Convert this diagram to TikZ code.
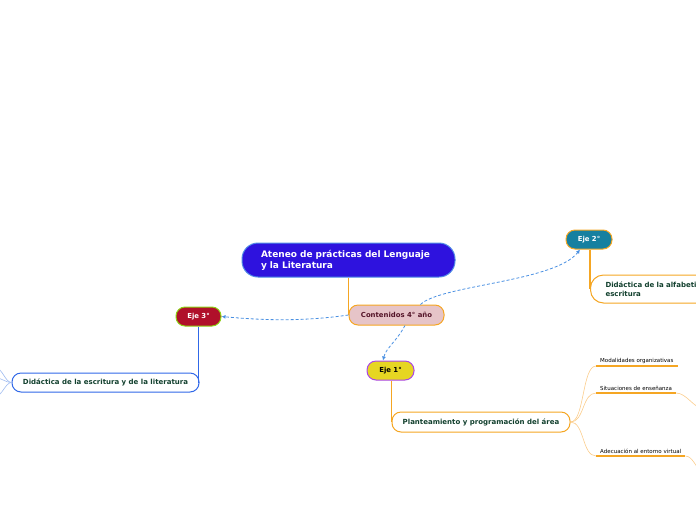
\documentclass[tikz,border=0pt]{standalone}
\usepackage{fontspec}
\setmainfont{DejaVu Sans}
\usetikzlibrary{arrows.meta,calc}
\definecolor{rootblue}{RGB}{46,18,222}
\definecolor{rootedge}{RGB}{80,140,230}
\definecolor{orangeline}{RGB}{245,166,35}
\definecolor{paletwig}{RGB}{251,205,140}
\definecolor{blueline}{RGB}{48,104,232}
\definecolor{bluetwig}{RGB}{160,188,240}
\definecolor{linkblue}{RGB}{74,144,226}
\definecolor{pinkfill}{RGB}{230,196,200}
\definecolor{maroontext}{RGB}{84,20,40}
\definecolor{tealfill}{RGB}{22,128,160}
\definecolor{crimson}{RGB}{176,16,42}
\definecolor{limeedge}{RGB}{140,210,20}
\definecolor{yellowfill}{RGB}{230,214,34}
\definecolor{purpleedge}{RGB}{170,70,230}
\definecolor{greentext}{RGB}{18,64,46}

\begin{document}
\begin{tikzpicture}[x=1pt,y=-1pt,
  every node/.style={inner sep=0pt},
  rootbox/.style={draw=rootedge,line width=1pt,fill=rootblue,rounded corners=16pt,minimum width=213pt,minimum height=34pt,text width=175pt,align=left,text=white,font=\fontsize{9}{11}\selectfont\bfseries},
  ejebox/.style={draw,line width=1pt,rounded corners=9pt,minimum height=19pt,font=\fontsize{6.9}{8}\selectfont\bfseries},
  subbox/.style={draw,line width=1pt,fill=white,rounded corners=9pt,minimum height=19pt,text=greentext,font=\fontsize{7}{9.5}\selectfont\bfseries},
  leaf/.style={inner xsep=4pt,inner ysep=2pt,font=\fontsize{5.5}{6}\selectfont},
  leafline/.style={draw=orangeline,line width=1.3pt},
  trunk/.style={line width=1.3pt},
  twig/.style={line width=0.6pt},
  link/.style={draw=linkblue,dashed,dash pattern=on 3pt off 2pt,line width=0.8pt,-{Latex[length=4pt,width=4pt]}}
]
\useasboundingbox (0,0) rectangle (696,520);
\clip (0,0) rectangle (696,520);

% central topic
\node[rootbox] (root) at (348.5,260) {Ateneo de prácticas del Lenguaje\\y la Literatura};
\node[ejebox,draw=orangeline,fill=pinkfill,text=maroontext,minimum width=95pt,minimum height=20pt] (cont) at (396.5,315) {Contenidos 4° año};
\draw[orangeline,trunk] (cont.west |- root.south) -- (cont.west);

% ejes
\node[ejebox,draw=orangeline,fill=tealfill,text=white,minimum width=46pt] (eje2) at (589,239.5) {Eje 2°};
\node[ejebox,draw=limeedge,fill=crimson,text=white,minimum width=45pt] (eje3) at (198.5,316.5) {Eje 3°};
\node[ejebox,draw=purpleedge,fill=yellowfill,text=black,minimum width=47pt] (eje1) at (390.5,370.5) {Eje 1°};

\draw[link] ($(cont.north)!0.5!(cont.north east)$) .. controls (440,285) and (555,282) .. ($(eje2.south)+(-9,0)$);
\draw[link] (cont.west) .. controls (300,322) and (260,320) .. (eje3.east);
\draw[link] ($(cont.south)+(8.5,0)$) .. controls (396,342) and (386,348) .. ($(eje1.north)+(-7.5,0)$);

% eje 2
\node[subbox,draw=orangeline,anchor=west,rounded corners=13pt,minimum width=200pt,minimum height=28pt,text width=170pt,align=left] (alfa) at (590,289) {Didáctica de la alfabetización\\escritura};
\draw[orangeline,trunk] (alfa.west |- eje2.south) -- (alfa.west);

% eje 3
\node[subbox,draw=blueline,minimum width=187pt] (escr) at (105.5,382.5) {Didáctica de la escritura y de la literatura};
\draw[blueline,trunk] (eje3.south) -- (eje3.south |- escr.east);
\coordinate (w1) at (-4,368);
\coordinate (w2) at (-4,378);
\coordinate (w3) at (-4,396);
\foreach \w in {w1,w2,w3}
  \draw[bluetwig,twig] (escr.west) .. controls +(-6,0) and +(6,0) .. (\w);

% eje 1
\node[subbox,draw=orangeline,minimum width=178pt,minimum height=20pt] (plan) at (481,422) {Planteamiento y programación del área};
\draw[orangeline,trunk] (plan.west |- eje1.south) -- (plan.west);

\node[leaf,anchor=south west] (modal) at (596,366) {Modalidades organizativas};
\node[leaf,anchor=south west] (situ) at (596,393) {Situaciones de enseñanza};
\node[leaf,anchor=south west] (adec) at (596,456) {Adecuación al entorno virtual};
\foreach \c in {modal,situ,adec} {
  \draw[paletwig,twig] (plan.east) .. controls +(14,0) and +(-14,0) .. (\c.south west);
  \draw[leafline] (\c.south west) -- (\c.south east);
}
\coordinate (s1) at (702,408);
\coordinate (a1) at (702,470);
\draw[paletwig,twig] (situ.south east) .. controls +(10,0) and +(-8,0) .. (s1);
\draw[paletwig,twig] (adec.south east) .. controls +(8,0) and +(-6,0) .. (a1);
\end{tikzpicture}
\end{document}
